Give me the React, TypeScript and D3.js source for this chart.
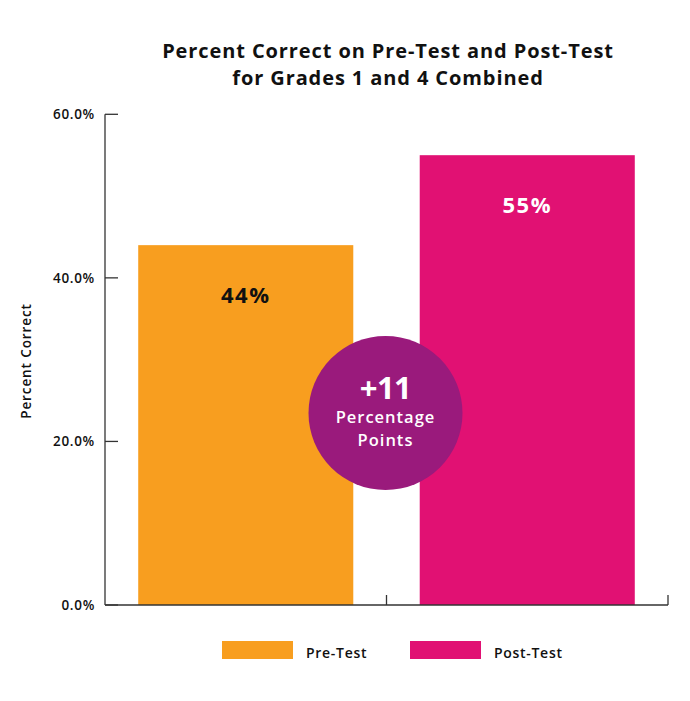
import React from "react";
import * as d3 from "d3";

const categories = ["Pre-Test", "Post-Test"];
const values = [44, 55];
const valueLabels = ["44%", "55%"];
const yTicks = [0, 20, 40, 60];
const titleLines = ["Percent Correct on Pre-Test and Post-Test", "for Grades 1 and 4 Combined"];
const badgeLines = ["+11", "Percentage", "Points"];

const colors = ["#F89E1F", "#E11173"];
const labelColors = ["#111111", "#FFFFFF"];
const purple = "#9A1A7C";
const FONT = "'Open Sans', 'DejaVu Sans', sans-serif";

export default function App() {
  const W = 690, H = 701;
  const left = 105, right = 668, top = 114.3, bottom = 605;
  const y = d3.scaleLinear().domain([0, 60]).range([bottom, top]);
  const x = d3.scaleBand<string>().domain(categories).range([left, right]).paddingInner(0.236).paddingOuter(0.118);
  const band = (right - left) / categories.length;
  const axisColor = "#333";

  const circleCx = left + band - 1;
  const circleCy = 413;

  const legendX = [222, 410];

  return (
    <svg width={W} height={H} style={{ position: "fixed", left: 0, top: 0 }} fontFamily={FONT}>
      <rect width={W} height={H} fill="#fff" />
      <text textAnchor="middle" fontSize={20} fontWeight={700} letterSpacing={0.9} fill="#111">
        {titleLines.map((t, i) => (
          <tspan key={i} x={388} y={58 + i * 26.5}>
            {t}
          </tspan>
        ))}
      </text>
      {/* bars */}
      {categories.map((c, i) => (
        <g key={c}>
          <rect x={x(c)} y={y(values[i])} width={x.bandwidth()} height={bottom - y(values[i])} fill={colors[i]} />
          <text x={(x(c) as number) + x.bandwidth() / 2} y={y(values[i]) + 58} textAnchor="middle" fontSize={22} fontWeight={700} letterSpacing={1.5} fill={labelColors[i]}>
            {valueLabels[i]}
          </text>
        </g>
      ))}
      {/* y axis */}
      <line x1={left} x2={left} y1={top} y2={bottom} stroke={axisColor} strokeWidth={1.3} />
      {yTicks.map((t) => (
        <g key={t}>
          <line x1={left} x2={left + 13} y1={y(t)} y2={y(t)} stroke={axisColor} strokeWidth={1.3} />
          <text x={95} y={y(t) + 5} textAnchor="end" fontSize={13.5} fontWeight={600} letterSpacing={0.7} fill="#111">
            {d3.format(".1f")(t) + "%"}
          </text>
        </g>
      ))}
      <text transform={`translate(31,361) rotate(-90)`} textAnchor="middle" fontSize={13.5} fontWeight={600} letterSpacing={0.9} fill="#111">
        Percent Correct
      </text>
      {/* x axis */}
      <line x1={left} x2={right} y1={bottom} y2={bottom} stroke={axisColor} strokeWidth={1.3} />
      {d3.range(1, categories.length + 1).map((k) => (
        <line key={k} x1={left + band * k} x2={left + band * k} y1={bottom} y2={bottom - 10} stroke={axisColor} strokeWidth={1.3} />
      ))}
      {/* badge */}
      <circle cx={circleCx} cy={circleCy} r={77} fill={purple} />
      <text textAnchor="middle" fill="#fff">
        <tspan x={circleCx} y={circleCy - 14} fontSize={31} fontWeight={700} letterSpacing={-0.5}>
          {badgeLines[0]}
        </tspan>
        <tspan x={circleCx} y={circleCy + 10} fontSize={16.5} fontWeight={600} letterSpacing={1}>
          {badgeLines[1]}
        </tspan>
        <tspan x={circleCx} y={circleCy + 33} fontSize={16.5} fontWeight={600} letterSpacing={1}>
          {badgeLines[2]}
        </tspan>
      </text>
      {/* legend */}
      {categories.map((c, i) => (
        <g key={c}>
          <rect x={legendX[i]} y={641} width={71} height={18} fill={colors[i]} />
          <text x={legendX[i] + 84} y={658} fontSize={14} fontWeight={600} letterSpacing={0.7} fill="#111">
            {c}
          </text>
        </g>
      ))}
    </svg>
  );
}
